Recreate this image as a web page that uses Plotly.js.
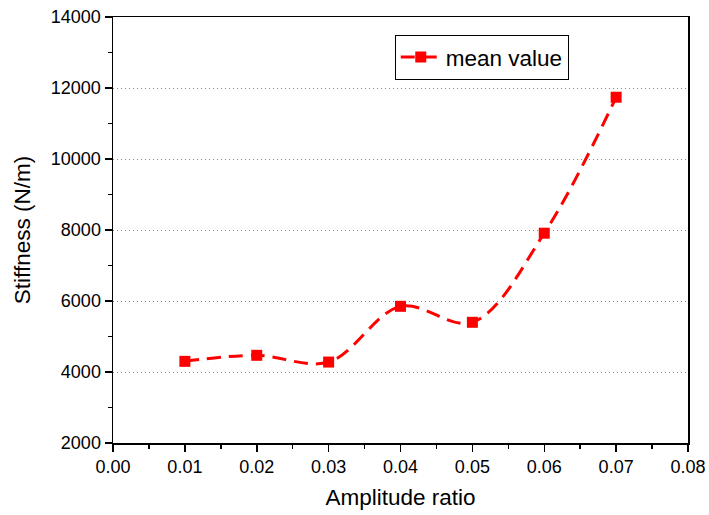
<!DOCTYPE html>
<html>
<head>
<meta charset="utf-8">
<script src="https://cdn.plot.ly/plotly-3.0.1.min.js"></script>
<style>html,body{margin:0;padding:0;background:#fff;}#chart{width:709px;height:515px;}</style>
</head>
<body>
<div id="chart"></div>
<script>
const amplitudeRatio = [0.01, 0.02, 0.03, 0.04, 0.05, 0.06, 0.07];
const stiffnessMean = [4300, 4470, 4280, 5850, 5400, 7910, 11740];
const seriesName = 'mean value';
const xTickVals = [0, 0.01, 0.02, 0.03, 0.04, 0.05, 0.06, 0.07, 0.08];
const xTickText = ['0.00', '0.01', '0.02', '0.03', '0.04', '0.05', '0.06', '0.07', '0.08'];
const yTickVals = [2000, 4000, 6000, 8000, 10000, 12000, 14000];
const yTickText = ['2000', '4000', '6000', '8000', '10000', '12000', '14000'];

const font = 'Liberation Sans, Arial, sans-serif';
const trace = {
  x: amplitudeRatio, y: stiffnessMean, name: seriesName,
  type: 'scatter', mode: 'lines+markers',
  line: {color: '#ff0000', width: 3, dash: '14px,8px', shape: 'spline', smoothing: 1},
  marker: {symbol: 'square', size: 11, color: '#ff0000'},
  showlegend: true
};
const layout = {
  width: 709, height: 515,
  margin: {l: 113, r: 21, t: 16.5, b: 71.5},
  paper_bgcolor: '#fff', plot_bgcolor: '#fff',
  font: {family: font, size: 18, color: '#000'},
  showlegend: true,
  legend: {x: 0.49, y: 0.905, xanchor: 'left', yanchor: 'middle',
    bordercolor: '#000', borderwidth: 1, bgcolor: '#fff',
    font: {size: 22.5, family: font}, itemwidth: 40, tracegroupgap: 0},
  xaxis: {
    range: [0, 0.08], tickvals: xTickVals, ticktext: xTickText,
    ticks: 'outside', ticklen: 7, tickwidth: 1.5, tickcolor: '#000',
    showline: true, linecolor: '#000', linewidth: 1.5, mirror: true,
    showgrid: false, zeroline: false,
    minor: {ticks: 'outside', ticklen: 4, tickwidth: 1.5, tickcolor: '#000', dtick: 0.005, tick0: 0, showgrid: false},
    tickfont: {size: 18, family: font},
    title: {text: 'Amplitude ratio', font: {size: 22.5, family: font}, standoff: 13}
  },
  yaxis: {
    range: [2000, 14000], tickvals: yTickVals, ticktext: yTickText,
    ticks: 'outside', ticklen: 7, tickwidth: 1.5, tickcolor: '#000',
    showline: true, linecolor: '#000', linewidth: 1.5, mirror: true,
    showgrid: true, gridcolor: '#888', griddash: '1px,3px', gridwidth: 1,
    zeroline: false,
    minor: {ticks: 'outside', ticklen: 4, tickwidth: 1.5, tickcolor: '#000', dtick: 1000, tick0: 0, showgrid: false},
    tickfont: {size: 18, family: font},
    title: {text: 'Stiffness (N/m)', font: {size: 22.5, family: font}, standoff: 14}
  }
};
Plotly.newPlot('chart', [trace], layout, {staticPlot: true, displayModeBar: false});
</script>
</body>
</html>
